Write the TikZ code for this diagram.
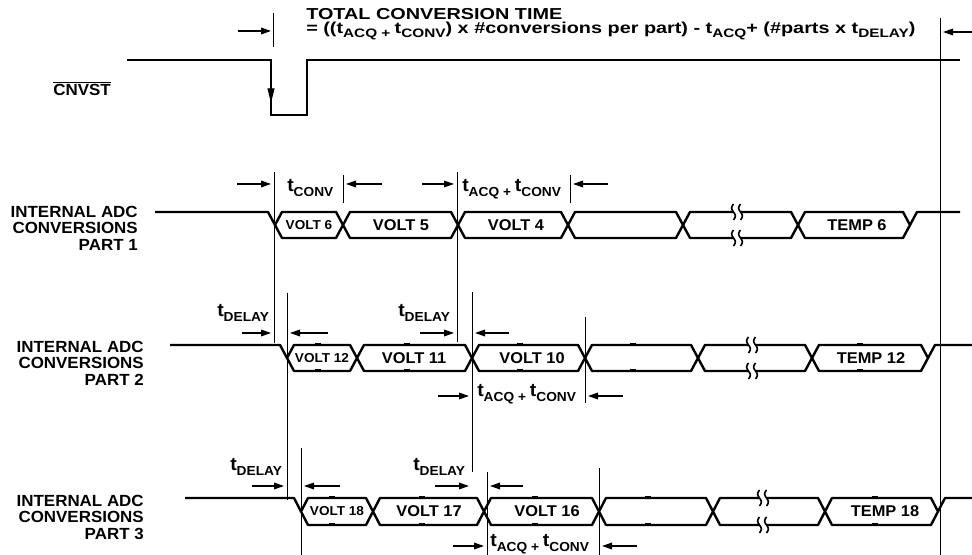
\documentclass[tikz,border=0pt]{standalone}
\usepackage{fontspec}
\setmainfont{Liberation Sans}[FakeStretch=1.05]
\newfontfamily\wideF{Liberation Sans}[FakeStretch=1.25]
\usetikzlibrary{arrows.meta}
\newcommand\fT{\fontsize{11.9pt}{12pt}\selectfont}
\newcommand\fL{\fontsize{12.1pt}{12.4pt}\selectfont}
\newcommand\fB{\fontsize{11.7pt}{12pt}\selectfont}
\newcommand\fS{\fontsize{9.7pt}{10pt}\selectfont}
\newcommand\fTT{\fontsize{13.9pt}{14pt}\selectfont}
\newcommand\sbt[1]{\raisebox{-3pt}{\fontsize{9.2pt}{10pt}\selectfont #1}}
\newcommand\sbx[1]{\raisebox{-3.4pt}{\fontsize{9.8pt}{10pt}\selectfont #1}}
\newcommand\hexseg[4]{% a,b,T,B
  \draw[bus] (#1,{(#3+#4)/2}) -- (#1+7,#3) -- (#2-7,#3) -- (#2,{(#3+#4)/2}) -- (#2-7,#4) -- (#1+7,#4) -- cycle;}
\newcommand\idlein[4]{% xi,x0,T,B
  \draw[bus] (#1,#3) -- (#2-7,#3) -- (#2,{(#3+#4)/2});}
\newcommand\idleout[4]{% xe,xf,T,B
  \draw[bus] (#1,{(#3+#4)/2}) -- (#1+7,#3) -- (#2,#3);}
\newcommand\brk[3]{% x,T,B
  \fill[white] (#1-3.5,#2-3) rectangle (#1+3.5,#2+3);
  \fill[white] (#1-3.5,#3-3) rectangle (#1+3.5,#3+3);
  \foreach \yy in {#2,#3}{\foreach \dx in {-3.5,3.5}{
    \draw[line width=1.2pt] plot[domain=-8:8,samples=25,smooth] ({#1+\dx+1.8*sin(\x*22.5)},{\yy+\x});}}}
\newcommand\bmark[3]{%
  \fill (#1-3,#2-1.5) rectangle (#1+3,#2+1.5);
  \fill (#1-3,#3-1.5) rectangle (#1+3,#3+1.5);}
\begin{document}
\begin{tikzpicture}[x=0.75pt,y=-0.75pt,
  bus/.style={line width=1.8pt,line join=round},
  wave/.style={line width=1.9pt},
  mk/.style={line width=0.6pt},
  arr/.style={line width=0.9pt,-{Triangle[length=7.5pt,width=5pt]}},
  lbl/.style={font=\bfseries\fL,align=right,inner sep=0pt},
  bl/.style={font=\bfseries\fB,inner sep=0pt},
  sbl/.style={font=\bfseries\fS,inner sep=0pt},
  ttl/.style={font=\wideF\bfseries\fT,inner sep=0pt,anchor=base west},
  tl/.style={font=\bfseries\fTT,inner sep=0pt,anchor=base west}]
\useasboundingbox (0,0) rectangle (972,555);

% ---------- marker lines ----------
\coordinate (v1a) at (273,13);  \coordinate (v1b) at (273,47);
\coordinate (v2a) at (940,18);  \coordinate (v2b) at (940,555);
\coordinate (v3a) at (274,172); \coordinate (v3b) at (274,343);
\coordinate (v4a) at (343,175); \coordinate (v4b) at (343,203);
\coordinate (v5a) at (457,172); \coordinate (v5b) at (457,342);
\coordinate (v6a) at (570,175); \coordinate (v6b) at (570,203);
\coordinate (v7a) at (287,293); \coordinate (v7b) at (287,500);
\coordinate (v8a) at (472,292); \coordinate (v8b) at (472,472);
\coordinate (v9a) at (585,317); \coordinate (v9b) at (585,403);
\coordinate (v10a) at (301,448); \coordinate (v10b) at (301,555);
\coordinate (v11a) at (487,472); \coordinate (v11b) at (487,555);
\coordinate (v12a) at (599,468); \coordinate (v12b) at (599,555);
\foreach \v in {1,...,12}{\draw[mk] (v\v a) -- (v\v b);}

% ---------- CNVST ----------
\draw[wave] (127,60) -- (271,60) -- (271,115) -- (307,115) -- (307,60) -- (960,60);
\draw[line width=0.9pt,-{Triangle[length=11pt,width=5.2pt]}] (271,70) -- (271,103);
\node[font=\bfseries\fL,inner sep=0pt] (cnvst) at (82,89) {$\overline{\hbox{CNVST}}$};

% ---------- title ----------
\node[ttl] (title1) at (306,20) {TOTAL CONVERSION TIME};
\node[ttl] (title2) at (306,34) {= ((t\sbt{ACQ + }t\sbt{CONV}) x \#conversions per part) - t\sbt{ACQ}+ (\#parts x t\sbt{DELAY})};
\draw[arr] (238,31) -- (271,31);
\draw[arr] (972,32) -- (943,32);

% ---------- row 1 ----------
\node[lbl,anchor=east] (p1) at (138,228) {INTERNAL ADC\\CONVERSIONS\\PART 1};
\idlein{155}{275}{212}{238}
\hexseg{275}{343}{212}{238}
\hexseg{343}{458}{212}{238}
\hexseg{458}{568}{212}{238}
\hexseg{568}{683}{212}{238}
\hexseg{683}{798}{212}{238}
\hexseg{798}{910}{212}{238}
\idleout{910}{960}{212}{238}
\brk{737}{212}{238}
\node[sbl] (r1a) at (309,225) {VOLT 6};
\node[bl] (r1b) at (401,225) {VOLT 5};
\node[bl] (r1c) at (516,225) {VOLT 4};
\node[bl] (r1d) at (857,225) {TEMP 6};
\node[tl] (tc1) at (287,192) {t\sbx{CONV}};
\node[tl] (ta1) at (462,192) {t\sbx{ACQ + }t\sbx{CONV}};
\draw[arr] (237,184) -- (271,184);
\draw[arr] (382,184) -- (346,184);
\draw[arr] (422,184) -- (454,184);
\draw[arr] (608,184) -- (573,184);

% ---------- row 2 ----------
\node[lbl,anchor=east] (p2) at (144,363) {INTERNAL ADC\\CONVERSIONS\\PART 2};
\idlein{170}{287}{345}{371}
\hexseg{287}{357}{345}{371}
\hexseg{357}{472}{345}{371}
\hexseg{472}{585}{345}{371}
\hexseg{585}{698}{345}{371}
\hexseg{698}{812}{345}{371}
\hexseg{812}{928}{345}{371}
\idleout{928}{972}{345}{371}
\foreach \m in {318,407,520,633,860}{\bmark{\m}{345}{371}}
\brk{752}{345}{371}
\node[sbl] (r2a) at (322,358) {VOLT 12};
\node[bl] (r2b) at (414,358) {VOLT 11};
\node[bl] (r2c) at (532,358) {VOLT 10};
\node[bl] (r2d) at (871,358) {TEMP 12};
\node[tl] (td2a) at (217,317) {t\sbx{DELAY}};
\node[tl] (td2b) at (398,317) {t\sbx{DELAY}};
\node[tl] (ta2) at (477,397) {t\sbx{ACQ + }t\sbx{CONV}};
\draw[arr] (242,333) -- (271,333);
\draw[arr] (328,333) -- (290,333);
\draw[arr] (420,333) -- (454,333);
\draw[arr] (509,333) -- (475,333);
\draw[arr] (438,396) -- (469,396);
\draw[arr] (623,396) -- (588,396);

% ---------- row 3 ----------
\node[lbl,anchor=east] (p3) at (144,517) {INTERNAL ADC\\CONVERSIONS\\PART 3};
\idlein{185}{301}{498}{525}
\hexseg{301}{373}{498}{525}
\hexseg{373}{484}{498}{525}
\hexseg{484}{599}{498}{525}
\hexseg{599}{713}{498}{525}
\hexseg{713}{825}{498}{525}
\hexseg{825}{938}{498}{525}
\idleout{938}{972}{498}{525}
\foreach \m in {332,422,535,648,875}{\bmark{\m}{498}{525}}
\brk{763}{498}{525}
\node[sbl] (r3a) at (337,511.5) {VOLT 18};
\node[bl] (r3b) at (429,511.5) {VOLT 17};
\node[bl] (r3c) at (547,511.5) {VOLT 16};
\node[bl] (r3d) at (885,511.5) {TEMP 18};
\node[tl] (td3a) at (230,471) {t\sbx{DELAY}};
\node[tl] (td3b) at (413,471) {t\sbx{DELAY}};
\node[tl] (ta3) at (490,547) {t\sbx{ACQ + }t\sbx{CONV}};
\draw[arr] (252,486) -- (284,486);
\draw[arr] (340,486) -- (304,486);
\draw[arr] (435,486) -- (469,486);
\draw[arr] (523,486) -- (490,486);
\draw[arr] (453,546) -- (484,546);
\draw[arr] (637,546) -- (602,546);
\end{tikzpicture}
\end{document}
